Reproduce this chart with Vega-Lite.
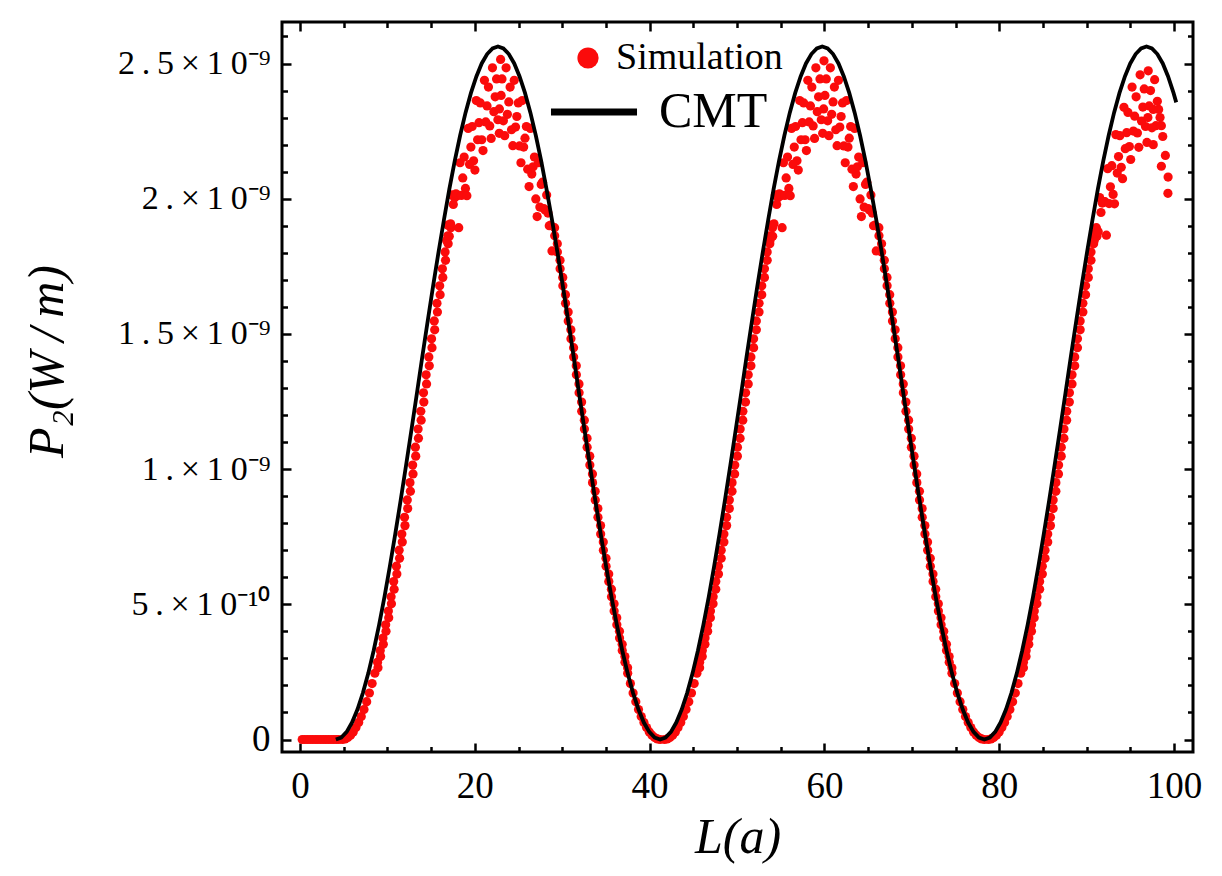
{
  "$schema": "https://vega.github.io/schema/vega-lite/v6.json",
  "width": 911,
  "height": 730,
  "autosize": {"type": "none"},
  "padding": {"left": 282, "top": 22, "right": 29, "bottom": 124},
  "background": "white",
  "config": {
    "view": {"stroke": "black", "strokeWidth": 3},
    "font": "Liberation Serif",
    "axis": {"domain": false, "grid": false, "tickColor": "black", "tickWidth": 2.5, "labelColor": "black", "titleColor": "black", "labelFont": "Liberation Serif", "titleFont": "Liberation Serif", "labelFlush": false, "labelOverlap": false},
    "legend": {"labelFont": "Liberation Serif", "labelColor": "black", "labelLimit": 400, "padding": 0}
  },
  "datasets": {
    "simulation": [
      {"L":0.25,"P":0},{"L":0.55,"P":0},{"L":0.85,"P":0},{"L":1.15,"P":0},{"L":1.45,"P":0},{"L":1.75,"P":0},{"L":2.05,"P":0},{"L":2.35,"P":0},{"L":2.65,"P":0},{"L":2.95,"P":0},{"L":3.25,"P":0},{"L":3.55,"P":0},{"L":3.85,"P":0},{"L":4.15,"P":0},{"L":4.45,"P":0},
      {"L":4.85,"P":0},{"L":5.16,"P":0.002e-9},{"L":5.47,"P":0.007e-9},{"L":5.78,"P":0.016e-9},{"L":6.09,"P":0.028e-9},{"L":6.40,"P":0.044e-9},{"L":6.71,"P":0.063e-9},{"L":7.01,"P":0.085e-9},{"L":7.32,"P":0.111e-9},{"L":7.63,"P":0.140e-9},{"L":7.94,"P":0.172e-9},{"L":8.25,"P":0.207e-9},{"L":8.56,"P":0.245e-9},{"L":8.87,"P":0.286e-9},{"L":9.18,"P":0.329e-9},{"L":9.49,"P":0.375e-9},{"L":9.80,"P":0.424e-9},{"L":10.11,"P":0.475e-9},{"L":10.42,"P":0.528e-9},{"L":10.72,"P":0.584e-9},{"L":11.03,"P":0.641e-9},{"L":11.34,"P":0.700e-9},{"L":11.65,"P":0.760e-9},{"L":11.96,"P":0.822e-9},{"L":12.27,"P":0.886e-9},{"L":12.58,"P":0.950e-9},{"L":12.89,"P":1.015e-9},{"L":13.20,"P":1.081e-9},{"L":13.51,"P":1.148e-9},{"L":13.82,"P":1.214e-9},{"L":14.13,"P":1.282e-9},{"L":14.43,"P":1.349e-9},{"L":14.74,"P":1.415e-9},{"L":15.05,"P":1.482e-9},{"L":15.36,"P":1.548e-9},{"L":15.67,"P":1.613e-9},{"L":15.98,"P":1.678e-9},{"L":16.29,"P":1.741e-9},{"L":16.60,"P":1.803e-9},{"L":16.91,"P":1.863e-9},
      {"L":8.92,"P":0.265e-9},{"L":9.22,"P":0.307e-9},{"L":9.53,"P":0.352e-9},{"L":9.84,"P":0.400e-9},{"L":10.15,"P":0.450e-9},{"L":10.46,"P":0.502e-9},{"L":10.77,"P":0.556e-9},{"L":11.08,"P":0.612e-9},{"L":11.39,"P":0.670e-9},{"L":11.70,"P":0.730e-9},{"L":12.01,"P":0.791e-9},{"L":12.32,"P":0.854e-9},{"L":12.63,"P":0.918e-9},{"L":12.93,"P":0.982e-9},{"L":13.24,"P":1.048e-9},{"L":13.55,"P":1.114e-9},{"L":13.86,"P":1.181e-9},{"L":14.17,"P":1.248e-9},{"L":14.48,"P":1.315e-9},{"L":14.79,"P":1.382e-9},{"L":15.10,"P":1.449e-9},{"L":15.41,"P":1.515e-9},{"L":15.72,"P":1.581e-9},{"L":16.03,"P":1.645e-9},{"L":16.34,"P":1.709e-9},{"L":16.65,"P":1.772e-9},{"L":16.95,"P":1.833e-9},{"L":17.26,"P":1.893e-9},
      {"L":16.77,"P":1.845e-9},{"L":17.08,"P":1.861e-9},{"L":17.39,"P":2.014e-9},{"L":17.69,"P":2.004e-9},{"L":18.00,"P":2.011e-9},{"L":18.31,"P":2.133e-9},{"L":18.62,"P":2.077e-9},{"L":18.93,"P":2.038e-9},{"L":19.24,"P":2.260e-9},{"L":19.55,"P":2.191e-9},{"L":19.86,"P":2.140e-9},{"L":20.17,"P":2.363e-9},{"L":20.48,"P":2.281e-9},{"L":20.79,"P":2.218e-9},{"L":21.10,"P":2.438e-9},{"L":21.40,"P":2.343e-9},{"L":21.71,"P":2.269e-9},{"L":22.02,"P":2.484e-9},{"L":22.33,"P":2.377e-9},{"L":22.64,"P":2.292e-9},{"L":22.95,"P":2.515e-9},
      {"L":16.92,"P":1.902e-9},{"L":17.23,"P":1.907e-9},{"L":17.54,"P":1.979e-9},{"L":17.85,"P":2.018e-9},{"L":18.16,"P":1.893e-9},{"L":18.47,"P":2.012e-9},{"L":18.78,"P":2.154e-9},{"L":19.09,"P":2.011e-9},{"L":19.40,"P":2.127e-9},{"L":19.70,"P":2.267e-9},{"L":20.01,"P":2.106e-9},{"L":20.32,"P":2.218e-9},{"L":20.63,"P":2.354e-9},{"L":20.94,"P":2.178e-9},{"L":21.25,"P":2.284e-9},{"L":21.56,"P":2.413e-9},{"L":21.87,"P":2.223e-9},{"L":22.18,"P":2.322e-9},{"L":22.49,"P":2.443e-9},{"L":22.80,"P":2.242e-9},
      {"L":22.81,"P":2.332e-9},{"L":23.11,"P":2.443e-9},{"L":23.42,"P":2.233e-9},{"L":23.73,"P":2.312e-9},{"L":24.04,"P":2.413e-9},{"L":24.35,"P":2.196e-9},{"L":24.66,"P":2.265e-9},{"L":24.97,"P":2.354e-9},{"L":25.28,"P":2.133e-9},{"L":25.59,"P":2.191e-9},{"L":25.90,"P":2.267e-9},{"L":26.21,"P":2.045e-9},{"L":26.52,"P":2.091e-9},{"L":26.82,"P":2.154e-9},{"L":27.13,"P":1.934e-9},{"L":27.44,"P":1.969e-9},{"L":27.75,"P":2.061e-9},{"L":28.06,"P":1.958e-9},{"L":28.37,"P":1.947e-9},{"L":28.68,"P":1.902e-9},
      {"L":23.01,"P":2.382e-9},{"L":23.27,"P":2.288e-9},{"L":23.58,"P":2.484e-9},{"L":23.89,"P":2.358e-9},{"L":24.20,"P":2.255e-9},{"L":24.51,"P":2.438e-9},{"L":24.81,"P":2.304e-9},{"L":25.12,"P":2.195e-9},{"L":25.43,"P":2.363e-9},{"L":25.74,"P":2.224e-9},{"L":26.05,"P":2.109e-9},{"L":26.36,"P":2.260e-9},{"L":26.67,"P":2.118e-9},{"L":26.98,"P":1.999e-9},{"L":27.29,"P":2.133e-9},{"L":27.60,"P":2.053e-9},{"L":27.91,"P":1.963e-9},{"L":28.22,"P":2.014e-9},{"L":28.52,"P":1.900e-9},{"L":28.83,"P":1.807e-9},
      {"L":29.14,"P":1.863e-9},{"L":29.45,"P":1.803e-9},{"L":29.76,"P":1.741e-9},{"L":30.07,"P":1.678e-9},{"L":30.38,"P":1.613e-9},{"L":30.69,"P":1.548e-9},{"L":31.00,"P":1.482e-9},{"L":31.31,"P":1.415e-9},{"L":31.62,"P":1.349e-9},{"L":31.93,"P":1.282e-9},{"L":32.23,"P":1.214e-9},{"L":32.54,"P":1.148e-9},{"L":32.85,"P":1.081e-9},{"L":33.16,"P":1.015e-9},{"L":33.47,"P":0.950e-9},{"L":33.78,"P":0.886e-9},{"L":34.09,"P":0.822e-9},{"L":34.40,"P":0.760e-9},{"L":34.71,"P":0.700e-9},{"L":35.02,"P":0.641e-9},{"L":35.33,"P":0.584e-9},{"L":35.64,"P":0.528e-9},{"L":35.94,"P":0.475e-9},{"L":36.25,"P":0.424e-9},{"L":36.56,"P":0.375e-9},{"L":36.87,"P":0.329e-9},{"L":37.18,"P":0.286e-9},{"L":37.49,"P":0.245e-9},{"L":37.80,"P":0.207e-9},{"L":38.11,"P":0.172e-9},{"L":38.42,"P":0.140e-9},{"L":38.73,"P":0.111e-9},{"L":39.04,"P":0.085e-9},{"L":39.35,"P":0.063e-9},{"L":39.65,"P":0.044e-9},{"L":39.96,"P":0.028e-9},{"L":40.27,"P":0.016e-9},{"L":40.58,"P":0.007e-9},{"L":40.89,"P":0.002e-9},{"L":41.20,"P":0},
      {"L":29.13,"P":1.893e-9},{"L":29.44,"P":1.833e-9},{"L":29.75,"P":1.772e-9},{"L":30.06,"P":1.709e-9},{"L":30.37,"P":1.645e-9},{"L":30.68,"P":1.581e-9},{"L":30.99,"P":1.515e-9},{"L":31.30,"P":1.449e-9},{"L":31.61,"P":1.382e-9},{"L":31.92,"P":1.315e-9},{"L":32.22,"P":1.248e-9},{"L":32.53,"P":1.181e-9},{"L":32.84,"P":1.114e-9},{"L":33.15,"P":1.048e-9},{"L":33.46,"P":0.982e-9},{"L":33.77,"P":0.918e-9},{"L":34.08,"P":0.854e-9},{"L":34.39,"P":0.791e-9},{"L":34.70,"P":0.730e-9},{"L":35.01,"P":0.670e-9},{"L":35.32,"P":0.612e-9},{"L":35.63,"P":0.556e-9},{"L":35.93,"P":0.502e-9},{"L":36.24,"P":0.450e-9},{"L":36.55,"P":0.400e-9},{"L":36.86,"P":0.352e-9},{"L":37.17,"P":0.307e-9},{"L":37.48,"P":0.265e-9},
      {"L":41.70,"P":0},{"L":42.01,"P":0.002e-9},{"L":42.32,"P":0.007e-9},{"L":42.63,"P":0.016e-9},{"L":42.94,"P":0.028e-9},{"L":43.25,"P":0.044e-9},{"L":43.56,"P":0.063e-9},{"L":43.86,"P":0.085e-9},{"L":44.17,"P":0.111e-9},{"L":44.48,"P":0.140e-9},{"L":44.79,"P":0.172e-9},{"L":45.10,"P":0.207e-9},{"L":45.41,"P":0.245e-9},{"L":45.72,"P":0.286e-9},{"L":46.03,"P":0.329e-9},{"L":46.34,"P":0.375e-9},{"L":46.65,"P":0.424e-9},{"L":46.96,"P":0.475e-9},{"L":47.27,"P":0.528e-9},{"L":47.57,"P":0.584e-9},{"L":47.88,"P":0.641e-9},{"L":48.19,"P":0.700e-9},{"L":48.50,"P":0.760e-9},{"L":48.81,"P":0.822e-9},{"L":49.12,"P":0.886e-9},{"L":49.43,"P":0.950e-9},{"L":49.74,"P":1.015e-9},{"L":50.05,"P":1.081e-9},{"L":50.36,"P":1.148e-9},{"L":50.67,"P":1.214e-9},{"L":50.98,"P":1.282e-9},{"L":51.28,"P":1.349e-9},{"L":51.59,"P":1.415e-9},{"L":51.90,"P":1.482e-9},{"L":52.21,"P":1.548e-9},{"L":52.52,"P":1.613e-9},{"L":52.83,"P":1.678e-9},{"L":53.14,"P":1.741e-9},{"L":53.45,"P":1.803e-9},{"L":53.76,"P":1.863e-9},
      {"L":45.72,"P":0.265e-9},{"L":46.02,"P":0.307e-9},{"L":46.33,"P":0.352e-9},{"L":46.64,"P":0.400e-9},{"L":46.95,"P":0.450e-9},{"L":47.26,"P":0.502e-9},{"L":47.57,"P":0.556e-9},{"L":47.88,"P":0.612e-9},{"L":48.19,"P":0.670e-9},{"L":48.50,"P":0.730e-9},{"L":48.81,"P":0.791e-9},{"L":49.12,"P":0.854e-9},{"L":49.43,"P":0.918e-9},{"L":49.73,"P":0.982e-9},{"L":50.04,"P":1.048e-9},{"L":50.35,"P":1.114e-9},{"L":50.66,"P":1.181e-9},{"L":50.97,"P":1.248e-9},{"L":51.28,"P":1.315e-9},{"L":51.59,"P":1.382e-9},{"L":51.90,"P":1.449e-9},{"L":52.21,"P":1.515e-9},{"L":52.52,"P":1.581e-9},{"L":52.83,"P":1.645e-9},{"L":53.14,"P":1.709e-9},{"L":53.45,"P":1.772e-9},{"L":53.75,"P":1.833e-9},{"L":54.06,"P":1.893e-9},
      {"L":53.77,"P":1.845e-9},{"L":54.08,"P":1.861e-9},{"L":54.39,"P":2.014e-9},{"L":54.69,"P":2.004e-9},{"L":55.00,"P":2.011e-9},{"L":55.31,"P":2.133e-9},{"L":55.62,"P":2.077e-9},{"L":55.93,"P":2.038e-9},{"L":56.24,"P":2.260e-9},{"L":56.55,"P":2.191e-9},{"L":56.86,"P":2.140e-9},{"L":57.17,"P":2.363e-9},{"L":57.48,"P":2.281e-9},{"L":57.79,"P":2.218e-9},{"L":58.10,"P":2.438e-9},{"L":58.40,"P":2.343e-9},{"L":58.71,"P":2.269e-9},{"L":59.02,"P":2.484e-9},{"L":59.33,"P":2.377e-9},{"L":59.64,"P":2.292e-9},{"L":59.95,"P":2.510e-9},
      {"L":53.92,"P":1.902e-9},{"L":54.23,"P":1.907e-9},{"L":54.54,"P":1.979e-9},{"L":54.85,"P":2.018e-9},{"L":55.16,"P":1.893e-9},{"L":55.47,"P":2.012e-9},{"L":55.78,"P":2.154e-9},{"L":56.09,"P":2.011e-9},{"L":56.40,"P":2.127e-9},{"L":56.70,"P":2.267e-9},{"L":57.01,"P":2.106e-9},{"L":57.32,"P":2.218e-9},{"L":57.63,"P":2.354e-9},{"L":57.94,"P":2.178e-9},{"L":58.25,"P":2.284e-9},{"L":58.56,"P":2.413e-9},{"L":58.87,"P":2.223e-9},{"L":59.18,"P":2.322e-9},{"L":59.49,"P":2.443e-9},{"L":59.80,"P":2.242e-9},
      {"L":59.91,"P":2.332e-9},{"L":60.21,"P":2.443e-9},{"L":60.52,"P":2.233e-9},{"L":60.83,"P":2.312e-9},{"L":61.14,"P":2.413e-9},{"L":61.45,"P":2.196e-9},{"L":61.76,"P":2.265e-9},{"L":62.07,"P":2.354e-9},{"L":62.38,"P":2.133e-9},{"L":62.69,"P":2.191e-9},{"L":63.00,"P":2.267e-9},{"L":63.31,"P":2.045e-9},{"L":63.62,"P":2.091e-9},{"L":63.92,"P":2.154e-9},{"L":64.23,"P":1.934e-9},{"L":64.54,"P":1.969e-9},{"L":64.85,"P":2.061e-9},{"L":65.16,"P":1.958e-9},{"L":65.47,"P":1.947e-9},{"L":65.78,"P":1.902e-9},
      {"L":60.06,"P":2.382e-9},{"L":60.37,"P":2.288e-9},{"L":60.68,"P":2.484e-9},{"L":60.99,"P":2.358e-9},{"L":61.30,"P":2.255e-9},{"L":61.61,"P":2.438e-9},{"L":61.91,"P":2.304e-9},{"L":62.22,"P":2.195e-9},{"L":62.53,"P":2.363e-9},{"L":62.84,"P":2.224e-9},{"L":63.15,"P":2.109e-9},{"L":63.46,"P":2.260e-9},{"L":63.77,"P":2.118e-9},{"L":64.08,"P":1.999e-9},{"L":64.39,"P":2.133e-9},{"L":64.70,"P":2.053e-9},{"L":65.01,"P":1.963e-9},{"L":65.32,"P":2.014e-9},{"L":65.62,"P":1.900e-9},{"L":65.93,"P":1.807e-9},
      {"L":66.24,"P":1.863e-9},{"L":66.55,"P":1.803e-9},{"L":66.86,"P":1.741e-9},{"L":67.17,"P":1.678e-9},{"L":67.48,"P":1.613e-9},{"L":67.79,"P":1.548e-9},{"L":68.10,"P":1.482e-9},{"L":68.41,"P":1.415e-9},{"L":68.72,"P":1.349e-9},{"L":69.03,"P":1.282e-9},{"L":69.33,"P":1.214e-9},{"L":69.64,"P":1.148e-9},{"L":69.95,"P":1.081e-9},{"L":70.26,"P":1.015e-9},{"L":70.57,"P":0.950e-9},{"L":70.88,"P":0.886e-9},{"L":71.19,"P":0.822e-9},{"L":71.50,"P":0.760e-9},{"L":71.81,"P":0.700e-9},{"L":72.12,"P":0.641e-9},{"L":72.43,"P":0.584e-9},{"L":72.74,"P":0.528e-9},{"L":73.04,"P":0.475e-9},{"L":73.35,"P":0.424e-9},{"L":73.66,"P":0.375e-9},{"L":73.97,"P":0.329e-9},{"L":74.28,"P":0.286e-9},{"L":74.59,"P":0.245e-9},{"L":74.90,"P":0.207e-9},{"L":75.21,"P":0.172e-9},{"L":75.52,"P":0.140e-9},{"L":75.83,"P":0.111e-9},{"L":76.14,"P":0.085e-9},{"L":76.45,"P":0.063e-9},{"L":76.75,"P":0.044e-9},{"L":77.06,"P":0.028e-9},{"L":77.37,"P":0.016e-9},{"L":77.68,"P":0.007e-9},{"L":77.99,"P":0.002e-9},{"L":78.30,"P":0},
      {"L":66.23,"P":1.893e-9},{"L":66.54,"P":1.833e-9},{"L":66.85,"P":1.772e-9},{"L":67.16,"P":1.709e-9},{"L":67.47,"P":1.645e-9},{"L":67.78,"P":1.581e-9},{"L":68.09,"P":1.515e-9},{"L":68.40,"P":1.449e-9},{"L":68.71,"P":1.382e-9},{"L":69.02,"P":1.315e-9},{"L":69.32,"P":1.248e-9},{"L":69.63,"P":1.181e-9},{"L":69.94,"P":1.114e-9},{"L":70.25,"P":1.048e-9},{"L":70.56,"P":0.982e-9},{"L":70.87,"P":0.918e-9},{"L":71.18,"P":0.854e-9},{"L":71.49,"P":0.791e-9},{"L":71.80,"P":0.730e-9},{"L":72.11,"P":0.670e-9},{"L":72.42,"P":0.612e-9},{"L":72.73,"P":0.556e-9},{"L":73.03,"P":0.502e-9},{"L":73.34,"P":0.450e-9},{"L":73.65,"P":0.400e-9},{"L":73.96,"P":0.352e-9},{"L":74.27,"P":0.307e-9},{"L":74.58,"P":0.265e-9},
      {"L":78.75,"P":0},{"L":79.06,"P":0.002e-9},{"L":79.37,"P":0.007e-9},{"L":79.68,"P":0.016e-9},{"L":79.99,"P":0.028e-9},{"L":80.30,"P":0.044e-9},{"L":80.61,"P":0.063e-9},{"L":80.91,"P":0.085e-9},{"L":81.22,"P":0.111e-9},{"L":81.53,"P":0.140e-9},{"L":81.84,"P":0.172e-9},{"L":82.15,"P":0.207e-9},{"L":82.46,"P":0.245e-9},{"L":82.77,"P":0.286e-9},{"L":83.08,"P":0.329e-9},{"L":83.39,"P":0.375e-9},{"L":83.70,"P":0.424e-9},{"L":84.01,"P":0.475e-9},{"L":84.32,"P":0.528e-9},{"L":84.62,"P":0.584e-9},{"L":84.93,"P":0.641e-9},{"L":85.24,"P":0.700e-9},{"L":85.55,"P":0.760e-9},{"L":85.86,"P":0.822e-9},{"L":86.17,"P":0.886e-9},{"L":86.48,"P":0.950e-9},{"L":86.79,"P":1.015e-9},{"L":87.10,"P":1.081e-9},{"L":87.41,"P":1.148e-9},{"L":87.72,"P":1.214e-9},{"L":88.03,"P":1.282e-9},{"L":88.33,"P":1.349e-9},{"L":88.64,"P":1.415e-9},{"L":88.95,"P":1.482e-9},{"L":89.26,"P":1.548e-9},{"L":89.57,"P":1.613e-9},{"L":89.88,"P":1.678e-9},{"L":90.19,"P":1.741e-9},{"L":90.50,"P":1.803e-9},{"L":90.81,"P":1.863e-9},
      {"L":82.77,"P":0.265e-9},{"L":83.07,"P":0.307e-9},{"L":83.38,"P":0.352e-9},{"L":83.69,"P":0.400e-9},{"L":84.00,"P":0.450e-9},{"L":84.31,"P":0.502e-9},{"L":84.62,"P":0.556e-9},{"L":84.93,"P":0.612e-9},{"L":85.24,"P":0.670e-9},{"L":85.55,"P":0.730e-9},{"L":85.86,"P":0.791e-9},{"L":86.17,"P":0.854e-9},{"L":86.48,"P":0.918e-9},{"L":86.78,"P":0.982e-9},{"L":87.09,"P":1.048e-9},{"L":87.40,"P":1.114e-9},{"L":87.71,"P":1.181e-9},{"L":88.02,"P":1.248e-9},{"L":88.33,"P":1.315e-9},{"L":88.64,"P":1.382e-9},{"L":88.95,"P":1.449e-9},{"L":89.26,"P":1.515e-9},{"L":89.57,"P":1.581e-9},{"L":89.88,"P":1.645e-9},{"L":90.19,"P":1.709e-9},{"L":90.50,"P":1.772e-9},{"L":90.80,"P":1.833e-9},{"L":91.11,"P":1.893e-9},
      {"L":90.87,"P":1.845e-9},{"L":91.18,"P":1.861e-9},{"L":91.49,"P":2.004e-9},{"L":91.79,"P":1.984e-9},{"L":92.10,"P":1.989e-9},{"L":92.41,"P":2.111e-9},{"L":92.72,"P":2.044e-9},{"L":93.03,"P":2.016e-9},{"L":93.34,"P":2.237e-9},{"L":93.65,"P":2.156e-9},{"L":93.96,"P":2.116e-9},{"L":94.27,"P":2.338e-9},{"L":94.58,"P":2.244e-9},{"L":94.89,"P":2.193e-9},{"L":95.20,"P":2.413e-9},{"L":95.50,"P":2.305e-9},{"L":95.81,"P":2.243e-9},{"L":96.12,"P":2.458e-9},{"L":96.43,"P":2.339e-9},{"L":96.74,"P":2.267e-9},{"L":97.05,"P":2.473e-9},
      {"L":91.02,"P":1.873e-9},{"L":91.33,"P":1.878e-9},{"L":91.64,"P":1.949e-9},{"L":91.95,"P":1.988e-9},{"L":92.26,"P":1.865e-9},{"L":92.57,"P":1.982e-9},{"L":92.88,"P":2.122e-9},{"L":93.19,"P":1.981e-9},{"L":93.50,"P":2.095e-9},{"L":93.80,"P":2.233e-9},{"L":94.11,"P":2.074e-9},{"L":94.42,"P":2.185e-9},{"L":94.73,"P":2.319e-9},{"L":95.04,"P":2.145e-9},{"L":95.35,"P":2.250e-9},{"L":95.66,"P":2.377e-9},{"L":95.97,"P":2.190e-9},{"L":96.28,"P":2.287e-9},{"L":96.59,"P":2.406e-9},{"L":96.90,"P":2.208e-9},
      {"L":97.01,"P":2.300e-9},{"L":97.31,"P":2.400e-9},{"L":97.62,"P":2.200e-9},{"L":97.93,"P":2.270e-9},{"L":98.24,"P":2.330e-9},{"L":98.55,"P":2.120e-9},
      {"L":97.16,"P":2.343e-9},{"L":97.47,"P":2.262e-9},{"L":97.78,"P":2.440e-9},{"L":98.09,"P":2.360e-9},{"L":98.40,"P":2.300e-9},{"L":98.71,"P":2.230e-9},{"L":99.01,"P":2.160e-9},{"L":99.32,"P":2.080e-9},{"L":99.30,"P":2.020e-9},{"L":98.55,"P":2.270e-9},{"L":97.62,"P":2.330e-9}
    ],
    "cmt": [
      {"L":4.10,"P":0},{"L":4.72,"P":0.0070e-9},{"L":5.34,"P":0.0280e-9},{"L":5.95,"P":0.0627e-9},{"L":6.57,"P":0.1108e-9},{"L":7.19,"P":0.1717e-9},{"L":7.81,"P":0.2447e-9},{"L":8.43,"P":0.3292e-9},{"L":9.05,"P":0.4240e-9},{"L":9.67,"P":0.5283e-9},{"L":10.28,"P":0.6408e-9},{"L":10.90,"P":0.7603e-9},{"L":11.52,"P":0.8855e-9},{"L":12.14,"P":1.0150e-9},{"L":12.76,"P":1.1476e-9},{"L":13.38,"P":1.2815e-9},{"L":13.99,"P":1.4154e-9},{"L":14.61,"P":1.5480e-9},{"L":15.23,"P":1.6775e-9},{"L":15.85,"P":1.8027e-9},{"L":16.47,"P":1.9223e-9},{"L":17.08,"P":2.0347e-9},{"L":17.70,"P":2.1390e-9},{"L":18.32,"P":2.2338e-9},{"L":18.94,"P":2.3183e-9},{"L":19.56,"P":2.3913e-9},{"L":20.18,"P":2.4522e-9},{"L":20.79,"P":2.5003e-9},{"L":21.41,"P":2.5350e-9},{"L":22.03,"P":2.5560e-9},{"L":22.65,"P":2.5630e-9},{"L":23.27,"P":2.5560e-9},{"L":23.89,"P":2.5350e-9},{"L":24.51,"P":2.5003e-9},{"L":25.12,"P":2.4522e-9},{"L":25.74,"P":2.3913e-9},{"L":26.36,"P":2.3183e-9},{"L":26.98,"P":2.2338e-9},{"L":27.60,"P":2.1390e-9},{"L":28.21,"P":2.0347e-9},{"L":28.83,"P":1.9223e-9},{"L":29.45,"P":1.8027e-9},{"L":30.07,"P":1.6775e-9},{"L":30.69,"P":1.5480e-9},{"L":31.31,"P":1.4154e-9},{"L":31.92,"P":1.2815e-9},{"L":32.54,"P":1.1476e-9},{"L":33.16,"P":1.0150e-9},{"L":33.78,"P":0.8855e-9},{"L":34.40,"P":0.7603e-9},{"L":35.02,"P":0.6408e-9},{"L":35.63,"P":0.5283e-9},{"L":36.25,"P":0.4240e-9},{"L":36.87,"P":0.3292e-9},{"L":37.49,"P":0.2447e-9},{"L":38.11,"P":0.1717e-9},{"L":38.73,"P":0.1108e-9},{"L":39.34,"P":0.0627e-9},{"L":39.96,"P":0.0280e-9},{"L":40.58,"P":0.0070e-9},{"L":41.20,"P":0},
      {"L":41.82,"P":0.0070e-9},{"L":42.44,"P":0.0280e-9},{"L":43.05,"P":0.0627e-9},{"L":43.67,"P":0.1108e-9},{"L":44.29,"P":0.1717e-9},{"L":44.91,"P":0.2447e-9},{"L":45.53,"P":0.3292e-9},{"L":46.15,"P":0.4240e-9},{"L":46.77,"P":0.5283e-9},{"L":47.38,"P":0.6408e-9},{"L":48.00,"P":0.7603e-9},{"L":48.62,"P":0.8855e-9},{"L":49.24,"P":1.0150e-9},{"L":49.86,"P":1.1476e-9},{"L":50.48,"P":1.2815e-9},{"L":51.09,"P":1.4154e-9},{"L":51.71,"P":1.5480e-9},{"L":52.33,"P":1.6775e-9},{"L":52.95,"P":1.8027e-9},{"L":53.57,"P":1.9223e-9},{"L":54.18,"P":2.0347e-9},{"L":54.80,"P":2.1390e-9},{"L":55.42,"P":2.2338e-9},{"L":56.04,"P":2.3183e-9},{"L":56.66,"P":2.3913e-9},{"L":57.28,"P":2.4522e-9},{"L":57.89,"P":2.5003e-9},{"L":58.51,"P":2.5350e-9},{"L":59.13,"P":2.5560e-9},{"L":59.75,"P":2.5630e-9},{"L":60.37,"P":2.5560e-9},{"L":60.99,"P":2.5350e-9},{"L":61.61,"P":2.5003e-9},{"L":62.22,"P":2.4522e-9},{"L":62.84,"P":2.3913e-9},{"L":63.46,"P":2.3183e-9},{"L":64.08,"P":2.2338e-9},{"L":64.70,"P":2.1390e-9},{"L":65.31,"P":2.0347e-9},{"L":65.93,"P":1.9223e-9},{"L":66.55,"P":1.8027e-9},{"L":67.17,"P":1.6775e-9},{"L":67.79,"P":1.5480e-9},{"L":68.41,"P":1.4154e-9},{"L":69.02,"P":1.2815e-9},{"L":69.64,"P":1.1476e-9},{"L":70.26,"P":1.0150e-9},{"L":70.88,"P":0.8855e-9},{"L":71.50,"P":0.7603e-9},{"L":72.12,"P":0.6408e-9},{"L":72.73,"P":0.5283e-9},{"L":73.35,"P":0.4240e-9},{"L":73.97,"P":0.3292e-9},{"L":74.59,"P":0.2447e-9},{"L":75.21,"P":0.1717e-9},{"L":75.83,"P":0.1108e-9},{"L":76.44,"P":0.0627e-9},{"L":77.06,"P":0.0280e-9},{"L":77.68,"P":0.0070e-9},{"L":78.30,"P":0},
      {"L":78.92,"P":0.0070e-9},{"L":79.54,"P":0.0280e-9},{"L":80.15,"P":0.0627e-9},{"L":80.77,"P":0.1108e-9},{"L":81.39,"P":0.1717e-9},{"L":82.01,"P":0.2447e-9},{"L":82.63,"P":0.3292e-9},{"L":83.25,"P":0.4240e-9},{"L":83.87,"P":0.5283e-9},{"L":84.48,"P":0.6408e-9},{"L":85.10,"P":0.7603e-9},{"L":85.72,"P":0.8855e-9},{"L":86.34,"P":1.0150e-9},{"L":86.96,"P":1.1476e-9},{"L":87.58,"P":1.2815e-9},{"L":88.19,"P":1.4154e-9},{"L":88.81,"P":1.5480e-9},{"L":89.43,"P":1.6775e-9},{"L":90.05,"P":1.8027e-9},{"L":90.67,"P":1.9223e-9},{"L":91.28,"P":2.0347e-9},{"L":91.90,"P":2.1390e-9},{"L":92.52,"P":2.2338e-9},{"L":93.14,"P":2.3183e-9},{"L":93.76,"P":2.3913e-9},{"L":94.38,"P":2.4522e-9},{"L":94.99,"P":2.5003e-9},{"L":95.61,"P":2.5350e-9},{"L":96.23,"P":2.5560e-9},{"L":96.85,"P":2.5630e-9},{"L":97.47,"P":2.5560e-9},{"L":98.09,"P":2.5350e-9},{"L":98.71,"P":2.5003e-9},{"L":99.32,"P":2.4522e-9},{"L":99.94,"P":2.3913e-9},{"L":100.25,"P":2.3563e-9}
    ]
  },
  "layer": [
    {
      "data": {"name": "simulation"},
      "mark": {"type": "point", "filled": true, "opacity": 1, "size": 85, "shape": "circle"},
      "encoding": {
        "x": {"field": "L", "type": "quantitative", "scale": {"domain": [-2.06, 102.17], "nice": false, "zero": false},
          "axis": {"orient": "bottom", "values": [0, 20, 40, 60, 80, 100], "tickSize": -9, "labelPadding": 25, "labelFontSize": 37, "labelFont": "Liberation Serif",
            "title": "L(a)", "titleFont": "Liberation Serif", "titleFontSize": 50, "titleFontStyle": "italic", "titleFontWeight": "normal", "titleY": 85, "titleBaseline": "middle"}},
        "y": {"field": "P", "type": "quantitative", "scale": {"domain": [-0.0462e-9, 2.6535e-9], "nice": false, "zero": false},
          "axis": {"orient": "left", "values": [0, 0.5e-9, 1e-9, 1.5e-9, 2e-9, 2.5e-9], "tickSize": -9, "labelPadding": 21, "labelFont": "Liberation Serif",
            "labelFontSize": {"condition": {"test": "datum.value == 0", "value": 37}, "value": 34},
            "labelExpr": "round(datum.value*1e10) == 0 ? '0' : round(datum.value*1e10) == 5 ? '5\u2009.\u2009\u00d7\u20091\u20090\u207b\u00b9\u2070' : round(datum.value*1e10) == 10 ? '1\u2009.\u2009\u00d7\u20091\u20090\u207b\u2079' : round(datum.value*1e10) == 15 ? '1\u2009.\u20095\u2009\u00d7\u20091\u20090\u207b\u2079' : round(datum.value*1e10) == 20 ? '2\u2009.\u2009\u00d7\u20091\u20090\u207b\u2079' : '2\u2009.\u20095\u2009\u00d7\u20091\u20090\u207b\u2079'",
            "title": "P\u2082(W\u2009/\u2009m)", "titleFont": "Liberation Serif", "titleFontSize": 50, "titleFontStyle": "italic", "titleFontWeight": "normal",
            "titleAngle": -90, "titleX": -235, "titleY": 339, "titleAlign": "center", "titleBaseline": "middle"}},
        "fill": {"datum": "Simulation", "type": "nominal", "scale": {"domain": ["Simulation"], "range": ["#fb0b0b"]},
          "legend": {"orient": "none", "legendX": 287, "legendY": 17, "title": null, "symbolType": "circle", "symbolSize": 450, "symbolStrokeWidth": 0, "labelFont": "Liberation Serif", "labelFontSize": 38, "labelOffset": 9}}
      }
    },
    {
      "data": {"name": "cmt"},
      "mark": {"type": "line", "strokeWidth": 3.8},
      "encoding": {
        "x": {"field": "L", "type": "quantitative", "scale": {"domain": [-2.06, 102.17], "nice": false, "zero": false},
          "axis": {"orient": "bottom", "values": [5, 10, 15, 25, 30, 35, 45, 50, 55, 65, 70, 75, 85, 90, 95], "tickSize": -5.5, "labels": false, "title": null}},
        "y": {"field": "P", "type": "quantitative", "scale": {"domain": [-0.0462e-9, 2.6535e-9], "nice": false, "zero": false},
          "axis": {"orient": "left", "values": [0.1e-9, 0.2e-9, 0.3e-9, 0.4e-9, 0.6e-9, 0.7e-9, 0.8e-9, 0.9e-9, 1.1e-9, 1.2e-9, 1.3e-9, 1.4e-9, 1.6e-9, 1.7e-9, 1.8e-9, 1.9e-9, 2.1e-9, 2.2e-9, 2.3e-9, 2.4e-9, 2.6e-9], "tickSize": -5.5, "labels": false, "title": null}},
        "stroke": {"datum": "CMT", "type": "nominal", "scale": {"domain": ["CMT"], "range": ["black"]},
          "legend": {"orient": "none", "legendX": 265, "legendY": 43, "title": null, "symbolType": "stroke", "symbolSize": 7400, "symbolStrokeWidth": 7, "labelFont": "Liberation Serif", "labelFontSize": 50, "labelOffset": 18}}
      }
    },
    {
      "data": {"name": "cmt"},
      "mark": {"type": "point", "opacity": 0},
      "encoding": {
        "x": {"field": "L", "type": "quantitative", "scale": {"domain": [-2.06, 102.17], "nice": false, "zero": false},
          "axis": {"orient": "top", "values": [0, 20, 40, 60, 80, 100], "tickSize": -9, "labels": false, "title": null}},
        "y": {"field": "P", "type": "quantitative", "scale": {"domain": [-0.0462e-9, 2.6535e-9], "nice": false, "zero": false},
          "axis": {"orient": "right", "values": [0, 0.5e-9, 1e-9, 1.5e-9, 2e-9, 2.5e-9], "tickSize": -9, "labels": false, "title": null}}
      }
    },
    {
      "data": {"name": "cmt"},
      "mark": {"type": "point", "opacity": 0},
      "encoding": {
        "x": {"field": "L", "type": "quantitative", "scale": {"domain": [-2.06, 102.17], "nice": false, "zero": false},
          "axis": {"orient": "top", "values": [5, 10, 15, 25, 30, 35, 45, 50, 55, 65, 70, 75, 85, 90, 95], "tickSize": -5.5, "labels": false, "title": null}},
        "y": {"field": "P", "type": "quantitative", "scale": {"domain": [-0.0462e-9, 2.6535e-9], "nice": false, "zero": false},
          "axis": {"orient": "right", "values": [0.1e-9, 0.2e-9, 0.3e-9, 0.4e-9, 0.6e-9, 0.7e-9, 0.8e-9, 0.9e-9, 1.1e-9, 1.2e-9, 1.3e-9, 1.4e-9, 1.6e-9, 1.7e-9, 1.8e-9, 1.9e-9, 2.1e-9, 2.2e-9, 2.3e-9, 2.4e-9, 2.6e-9], "tickSize": -5.5, "labels": false, "title": null}}
      }
    }
  ],
  "resolve": {"axis": {"x": "independent", "y": "independent"}}
}
